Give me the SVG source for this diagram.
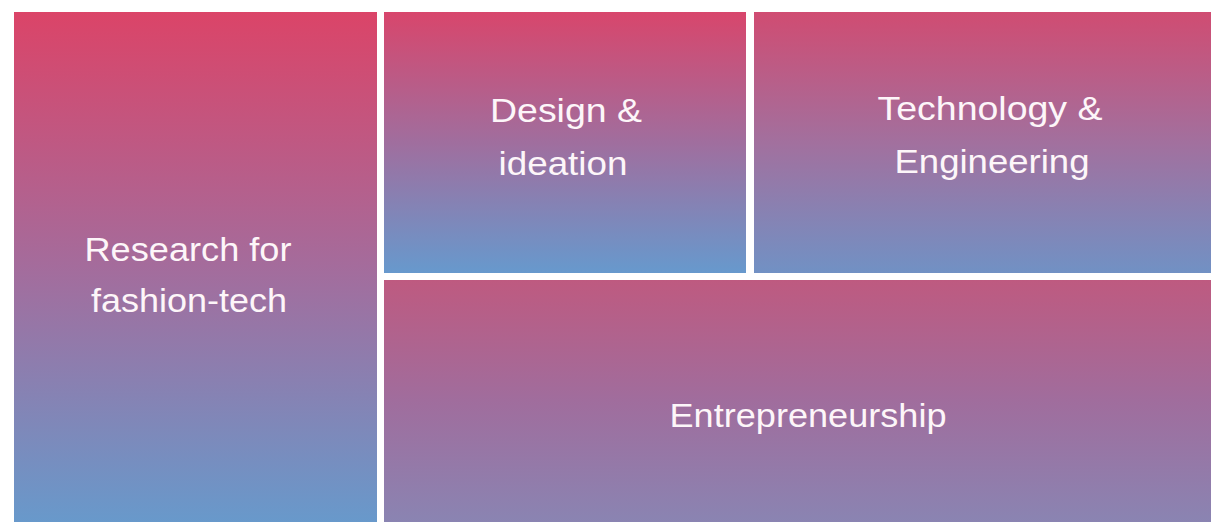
<svg xmlns="http://www.w3.org/2000/svg" width="1211" height="522" viewBox="0 0 1211 522">
  <defs>
    <linearGradient id="gLeft" x1="0" y1="0" x2="0" y2="1">
      <stop offset="0" stop-color="#db4468"/>
      <stop offset="0.5" stop-color="#a46c9c"/>
      <stop offset="1" stop-color="#6899cb"/>
    </linearGradient>
    <linearGradient id="gDesign" x1="0" y1="0" x2="0" y2="1">
      <stop offset="0" stop-color="#d8466c"/>
      <stop offset="0.5" stop-color="#a06e9e"/>
      <stop offset="1" stop-color="#6799cd"/>
    </linearGradient>
    <linearGradient id="gTech" x1="0" y1="0" x2="0" y2="1">
      <stop offset="0" stop-color="#d04c72"/>
      <stop offset="0.5" stop-color="#a2709e"/>
      <stop offset="1" stop-color="#7191c4"/>
    </linearGradient>
    <linearGradient id="gEntre" x1="0" y1="0" x2="0" y2="1">
      <stop offset="0" stop-color="#be5a80"/>
      <stop offset="0.5" stop-color="#a06d9d"/>
      <stop offset="1" stop-color="#8a84b2"/>
    </linearGradient>
  </defs>
  <style>
    .label { font-family: "Liberation Sans", Arial, sans-serif; font-size: 34px; fill: #fdf6f9; text-anchor: middle; }
  </style>
  <rect width="1211" height="522" fill="#ffffff"/>

  <g id="research">
    <rect x="14" y="12" width="363" height="510" fill="url(#gLeft)"/>
    <text class="label" x="188" y="261" textLength="207" lengthAdjust="spacingAndGlyphs">Research for</text>
    <text class="label" x="189" y="312" textLength="196" lengthAdjust="spacingAndGlyphs">fashion-tech</text>
  </g>

  <g id="design">
    <rect x="384" y="12" width="362" height="261" fill="url(#gDesign)"/>
    <text class="label" x="566" y="122" textLength="152" lengthAdjust="spacingAndGlyphs">Design &amp;</text>
    <text class="label" x="563" y="175" textLength="129" lengthAdjust="spacingAndGlyphs">ideation</text>
  </g>

  <g id="technology">
    <rect x="754" y="12" width="457" height="261" fill="url(#gTech)"/>
    <text class="label" x="990" y="120" textLength="225" lengthAdjust="spacingAndGlyphs">Technology &amp;</text>
    <text class="label" x="992" y="173" textLength="195" lengthAdjust="spacingAndGlyphs">Engineering</text>
  </g>

  <g id="entrepreneurship">
    <rect x="384" y="280" width="827" height="242" fill="url(#gEntre)"/>
    <text class="label" x="808" y="427" textLength="277" lengthAdjust="spacingAndGlyphs">Entrepreneurship</text>
  </g>

  <g id="connectors"/>
</svg>
